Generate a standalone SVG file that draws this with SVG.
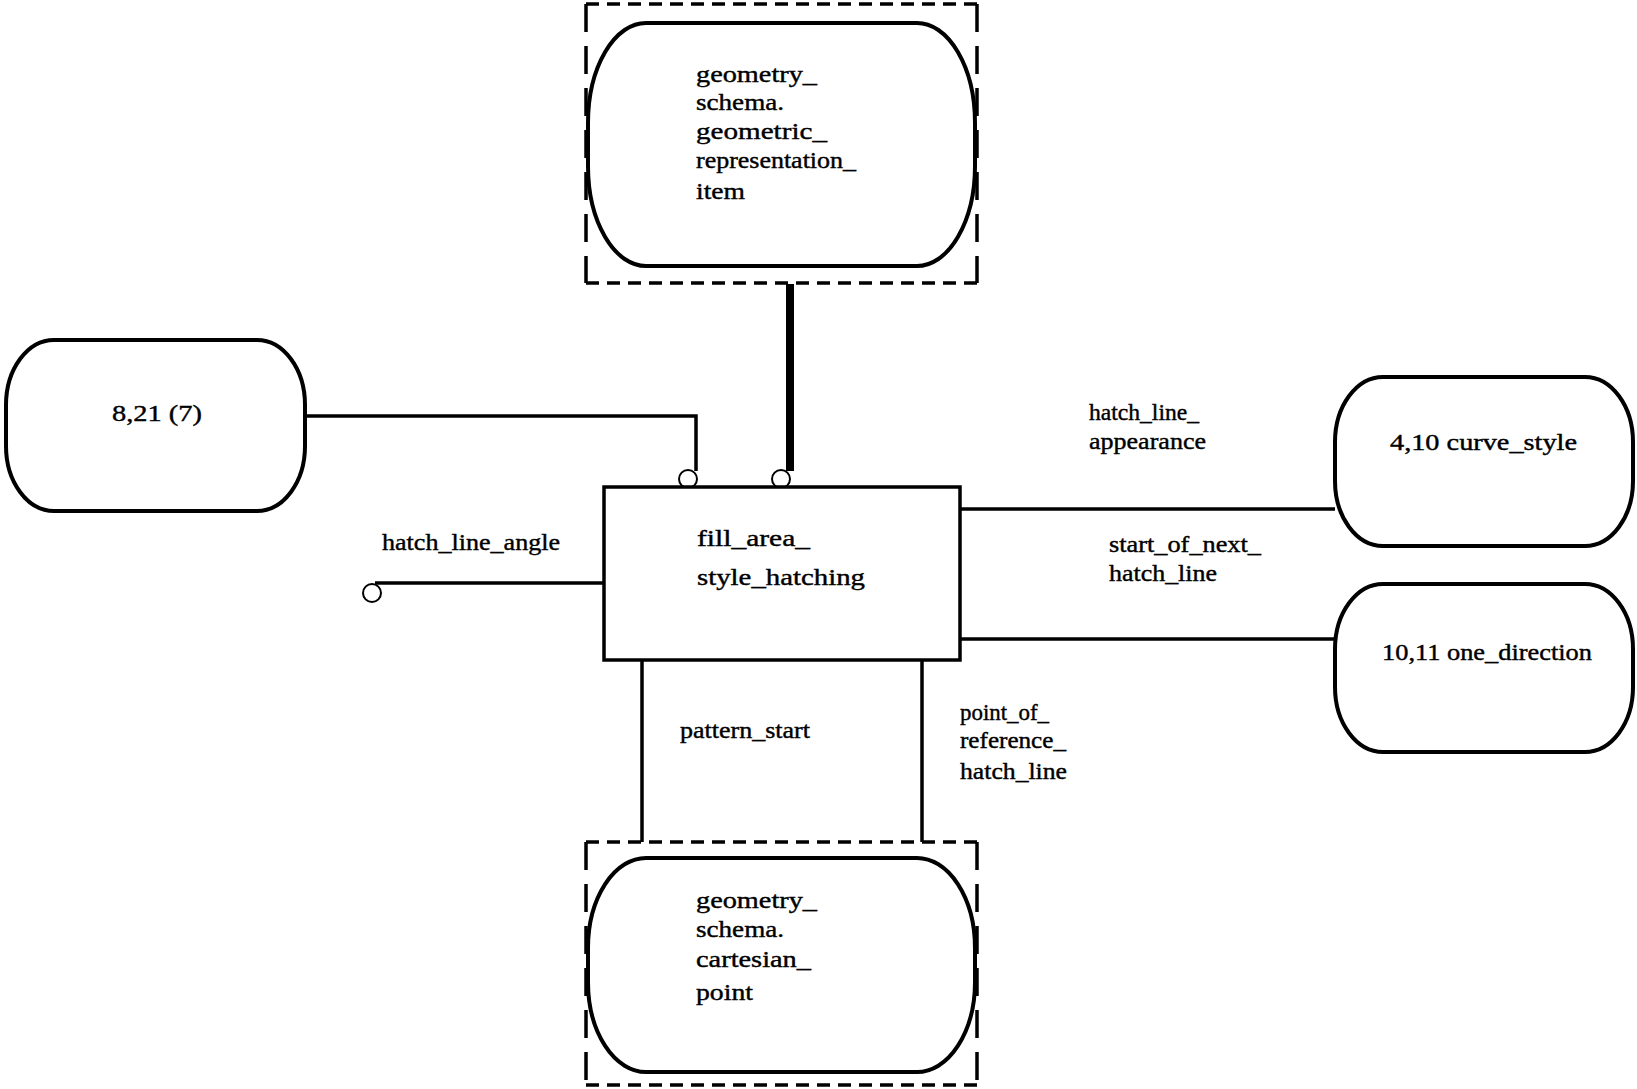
<svg xmlns="http://www.w3.org/2000/svg" width="1637" height="1089" viewBox="0 0 1637 1089">
<style>
.bg{fill:#fff}
.node{fill:#fff;stroke:#000;stroke-width:4}
.box{fill:#fff;stroke:#000;stroke-width:3.5}
.dh{fill:none;stroke:#000;stroke-width:3.5;stroke-dasharray:13 8}
.dv{fill:none;stroke:#000;stroke-width:3.5;stroke-dasharray:28 14}
.ln{fill:none;stroke:#000;stroke-width:3.5}
.thick{fill:none;stroke:#000;stroke-width:8}
.circ{fill:#fff;stroke:#000;stroke-width:2}
text{font-family:"Liberation Serif","Times New Roman",serif;font-size:23px;fill:#000;stroke:#000;stroke-width:0.4}
</style>
<rect class="bg" x="0" y="0" width="1637" height="1089"/>
<g id="connectors">
<polyline class="ln" points="305,416 696,416 696,471"/>
<line class="thick" x1="790" y1="284" x2="790" y2="471"/>
<line class="ln" x1="375" y1="583" x2="604" y2="583"/>
<line class="ln" x1="960" y1="509" x2="1335" y2="509"/>
<line class="ln" x1="960" y1="639" x2="1335" y2="639"/>
<line class="ln" x1="642" y1="660" x2="642" y2="842"/>
<line class="ln" x1="922" y1="660" x2="922" y2="842"/>
<circle class="circ" cx="688" cy="479" r="9"/>
<circle class="circ" cx="781" cy="479" r="9"/>
<circle class="circ" cx="372" cy="593" r="9"/>
<text x="382" y="550" textLength="178" lengthAdjust="spacingAndGlyphs">hatch_line_angle</text>
<text x="1089" y="420" textLength="110" lengthAdjust="spacingAndGlyphs">hatch_line_</text>
<text x="1089" y="449" textLength="117" lengthAdjust="spacingAndGlyphs">appearance</text>
<text x="1109" y="552" textLength="152" lengthAdjust="spacingAndGlyphs">start_of_next_</text>
<text x="1109" y="581" textLength="108" lengthAdjust="spacingAndGlyphs">hatch_line</text>
<text x="680" y="738" textLength="130" lengthAdjust="spacingAndGlyphs">pattern_start</text>
<text x="960" y="720" textLength="89" lengthAdjust="spacingAndGlyphs">point_of_</text>
<text x="960" y="748" textLength="106" lengthAdjust="spacingAndGlyphs">reference_</text>
<text x="960" y="779" textLength="107" lengthAdjust="spacingAndGlyphs">hatch_line</text>
</g>
<g id="geometric_representation_item">
<line class="dh" x1="586" y1="4" x2="977" y2="4"/>
<line class="dh" x1="586" y1="283" x2="977" y2="283"/>
<line class="dv" x1="586" y1="4" x2="586" y2="283"/>
<line class="dv" x1="977" y1="4" x2="977" y2="283"/>
<rect class="node" x="588" y="23" width="387" height="243" rx="58" ry="100"/>
<text x="696" y="82" textLength="121" lengthAdjust="spacingAndGlyphs">geometry_</text>
<text x="696" y="110" textLength="88" lengthAdjust="spacingAndGlyphs">schema.</text>
<text x="696" y="139" textLength="131" lengthAdjust="spacingAndGlyphs">geometric_</text>
<text x="696" y="168" textLength="160" lengthAdjust="spacingAndGlyphs">representation_</text>
<text x="696" y="199" textLength="49" lengthAdjust="spacingAndGlyphs">item</text>
</g>
<g id="n8_21">
<rect class="node" x="6" y="340" width="299" height="171" rx="48" ry="65"/>
<text x="112" y="421" textLength="90" lengthAdjust="spacingAndGlyphs">8,21 (7)</text>
</g>
<g id="fill_area_style_hatching">
<rect class="box" x="604" y="487" width="356" height="173"/>
<text x="697" y="546" textLength="113" lengthAdjust="spacingAndGlyphs">fill_area_</text>
<text x="697" y="585" textLength="168" lengthAdjust="spacingAndGlyphs">style_hatching</text>
</g>
<g id="curve_style">
<rect class="node" x="1335" y="377" width="298" height="169" rx="48" ry="65"/>
<text x="1390" y="450" textLength="187" lengthAdjust="spacingAndGlyphs">4,10 curve_style</text>
</g>
<g id="one_direction">
<rect class="node" x="1335" y="584" width="298" height="168" rx="48" ry="65"/>
<text x="1382" y="660" textLength="210" lengthAdjust="spacingAndGlyphs">10,11 one_direction</text>
</g>
<g id="cartesian_point">
<line class="dh" x1="586" y1="842" x2="977" y2="842"/>
<line class="dh" x1="586" y1="1085" x2="977" y2="1085"/>
<line class="dv" x1="586" y1="842" x2="586" y2="1085"/>
<line class="dv" x1="977" y1="842" x2="977" y2="1085"/>
<rect class="node" x="588" y="858" width="387" height="214" rx="58" ry="90"/>
<text x="696" y="908" textLength="121" lengthAdjust="spacingAndGlyphs">geometry_</text>
<text x="696" y="937" textLength="88" lengthAdjust="spacingAndGlyphs">schema.</text>
<text x="696" y="967" textLength="115" lengthAdjust="spacingAndGlyphs">cartesian_</text>
<text x="696" y="1000" textLength="57" lengthAdjust="spacingAndGlyphs">point</text>
</g>
</svg>
